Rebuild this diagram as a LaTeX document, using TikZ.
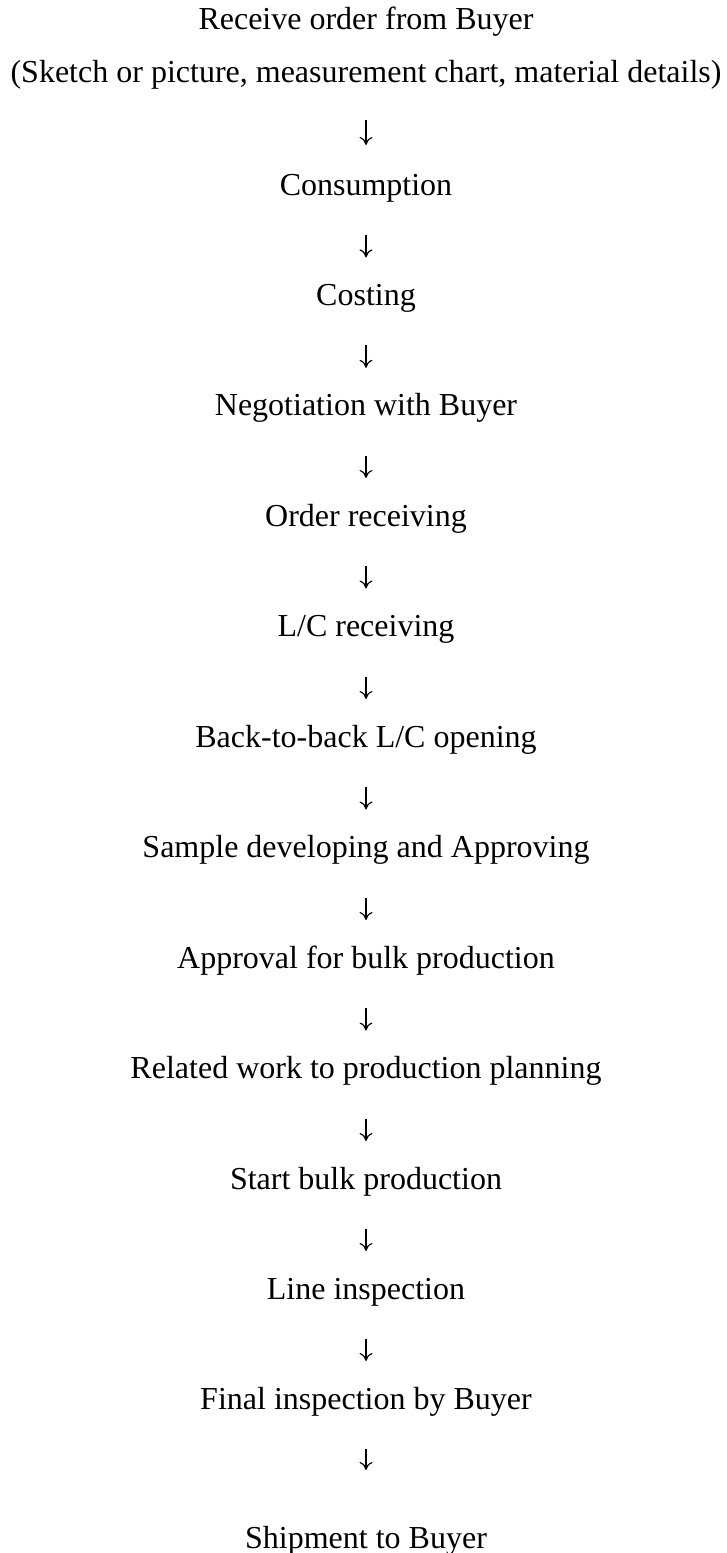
\documentclass[tikz,border=0pt]{standalone}
\usepackage{fontspec}
\setmainfont{Liberation Serif}
\usetikzlibrary{arrows.meta}
\tikzset{
  steptext/.style={anchor=base, inner sep=0pt, font=\fontsize{32}{38}\selectfont},
  flow/.style={-{Computer Modern Rightarrow[length=8pt,width=13pt]}, line width=1.2pt}
}
\begin{document}
\begin{tikzpicture}[x=1pt,y=-1pt]
\useasboundingbox (0,0) rectangle (727,1553);
\node[steptext] (n0)  at (366,29)   {Receive order from Buyer};
\node[steptext] (n0b) at (366,82)   {(Sketch or picture, measurement chart, material details)};
\node[steptext] (n1)  at (366,195)  {Consumption};
\node[steptext] (n2)  at (366,305.4){Costing};
\node[steptext] (n3)  at (366,415.8){Negotiation with Buyer};
\node[steptext] (n4)  at (366,526)  {Order receiving};
\node[steptext] (n5)  at (366,636.5){L/C receiving};
\node[steptext] (n6)  at (366,747)  {Back-to-back L/C opening};
\node[steptext] (n7)  at (366,857.5){Sample developing and Approving};
\node[steptext] (n8)  at (366,968)  {Approval for bulk production};
\node[steptext] (n9)  at (366,1078.5){Related work to production planning};
\node[steptext] (n10) at (366,1189) {Start bulk production};
\node[steptext] (n11) at (366,1299) {Line inspection};
\node[steptext] (n12) at (366,1409) {Final inspection by Buyer};
\node[steptext] (n13) at (366,1548) {Shipment to Buyer};
\draw[flow, shorten <=38pt, shorten >=50pt] (n0b.base) -- (n1.base);
\foreach \a/\b in {n1/n2,n2/n3,n3/n4,n4/n5,n5/n6,n6/n7,n7/n8,n8/n9,n9/n10,n10/n11,n11/n12}
  \draw[flow, shorten <=40pt, shorten >=48pt] (\a.base) -- (\b.base);
\draw[flow, shorten <=40pt, shorten >=78pt] (n12.base) -- (n13.base);
\end{tikzpicture}
\end{document}
